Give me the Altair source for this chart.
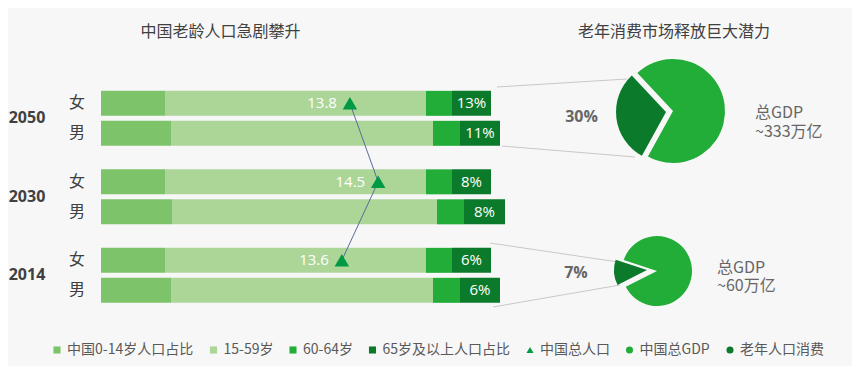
import math
import altair as alt
import pandas as pd

FONT = "Noto Sans CJK SC"
NUM_FONT = "Open Sans"
BG = "#f7f7f7"

# ---------------- data ----------------
years = ["2050", "2050", "2030", "2030", "2014", "2014"]
sexes = ["女", "男", "女", "男", "女", "男"]
# relative segment lengths as drawn
seg_0_14 = [64, 70, 64, 71, 64, 70]
seg_15_59 = [261, 262, 261, 265, 261, 262]
seg_60_64 = [26, 27, 26, 27, 26, 27]
seg_65_plus = [39, 40, 39, 41, 39, 40]
pct_65_labels = ["13%", "11%", "8%", "8%", "6%", "6%"]

pop_years = ["2050", "2030", "2014"]
pop_values = [13.8, 14.5, 13.6]  # 亿

group_names = ["中国0-14岁人口占比", "15-59岁", "60-64岁", "65岁及以上人口占比"]
legend_names = group_names + ["中国总人口", "中国总GDP", "老年人口消费"]
legend_colors = ["#7dc36a", "#acd598", "#22ac38", "#0b7b2b", "#009a44", "#22ac38", "#0b7b2b"]
legend_shapes = ["square", "square", "square", "square", "triangle-up", "circle", "circle"]

gdp_big_share = [30, 70]      # elderly consumption, rest (2050)
gdp_small_share = [12.5, 87.5]  # elderly consumption, rest (2014, as drawn)
pie_labels = ["30%", "7%"]
gdp_labels = ["总GDP\n~333万亿", "总GDP\n~60万亿"]
titles = ["中国老龄人口急剧攀升", "老年消费市场释放巨大潜力"]

# ---------------- tables ----------------
segs = [seg_0_14, seg_15_59, seg_60_64, seg_65_plus]
bar_rows = []
for i in range(len(years)):
    for j, g in enumerate(group_names):
        bar_rows.append({"year": years[i], "sex": sexes[i], "group": g,
                         "value": segs[j][i], "ord": j})
bars_df = pd.DataFrame(bar_rows)

rows_df = pd.DataFrame({
    "year": years, "sex": sexes, "pct": pct_65_labels,
    "lab_x": [a + b + c + d / 2 for a, b, c, d in zip(seg_0_14, seg_15_59, seg_60_64, seg_65_plus)],
})
year_df = pd.DataFrame({"year": pop_years})
pop_df = pd.DataFrame({"year": pop_years, "sex": ["女"] * 3, "pop": pop_values,
                       "series": ["中国总人口"] * 3, "ord": list(range(3))})
legend_df = pd.DataFrame({"name": legend_names})


def pie_df(share):
    names = ["老年人口消费", "中国总GDP"]
    start, rows = 0, []
    for n, v in zip(names, share):
        rows.append({"name": n, "start": start, "end": start + v})
        start += v
    return pd.DataFrame(rows)


big_pie = pie_df(gdp_big_share)
small_pie = pie_df(gdp_small_share)

# ---------------- scales ----------------
xscale = alt.Scale(domain=[0, 751], range=[93, 844])
yscale = alt.Scale(domain=["2050", "2030", "2014"], range=[71.08, 306.58],
                   paddingInner=0, paddingOuter=0)
yoff = alt.Scale(domain=["女", "男"], paddingInner=0.1667, paddingOuter=0.392)
popscale = alt.Scale(domain=[13, 15], range=[309.6, 390.4])
cscale = alt.Scale(domain=legend_names, range=legend_colors)
sscale = alt.Scale(domain=legend_names, range=legend_shapes)

lg = alt.Legend(orient="none", legendX=42, legendY=335, direction="horizontal", title=None,
                symbolSize=50, labelFont=FONT, labelFontSize=14, labelColor="#595959",
                labelOffset=3, columnPadding=12.5, symbolStrokeWidth=0, labelLimit=400)


def color_enc(field):
    return alt.Color(f"{field}:N", scale=cscale, legend=lg)


Y = alt.Y("year:N", scale=yscale, axis=None)
YO = alt.YOffset("sex:N", scale=yoff)

# ---------------- layers ----------------
dummy = pd.DataFrame({"a": [0]})


def rule(x1, y1, x2, y2):
    return alt.Chart(dummy).mark_rule(color="#c8c8c8", strokeWidth=1).encode(
        x=alt.value(x1), y=alt.value(y1), x2=alt.value(x2), y2=alt.value(y2))


connectors = [rule(489, 79, 619, 71), rule(494, 138, 627, 149),
              rule(482, 235, 610, 254), rule(485, 299, 612, 277)]

bars = alt.Chart(bars_df).mark_bar(strokeWidth=0).encode(
    x=alt.X("value:Q", stack="zero", scale=xscale, axis=None),
    y=Y, yOffset=YO, color=color_enc("group"), order=alt.Order("ord:Q"))

pct_text = alt.Chart(rows_df).mark_text(color="white", fontSize=15, font=NUM_FONT,
                                        baseline="middle").encode(
    x=alt.X("lab_x:Q", scale=xscale, axis=None), y=Y, yOffset=YO, text="pct:N")

sex_text = alt.Chart(rows_df).mark_text(color="#404040", fontSize=16, font=FONT,
                                        baseline="middle").encode(
    x=alt.value(69), y=Y, yOffset=YO, text="sex:N")

year_text = alt.Chart(year_df).mark_text(color="#404040", fontSize=16, font=NUM_FONT,
                                         fontWeight="bold", baseline="middle").encode(
    x=alt.value(19), y=Y, text="year:N")

pop_line = alt.Chart(pop_df).mark_line(color="#5b6b9b", strokeWidth=1).encode(
    x=alt.X("pop:Q", scale=popscale, axis=None), y=Y, yOffset=YO, order=alt.Order("ord:Q"))

pop_pts = alt.Chart(pop_df).mark_point(shape="triangle-up", filled=True, size=210,
                                       opacity=1).encode(
    x=alt.X("pop:Q", scale=popscale, axis=None), y=Y, yOffset=YO, color=color_enc("series"))

pop_text = alt.Chart(pop_df).mark_text(color="white", fontSize=15, font=NUM_FONT, align="right",
                                       dx=-13, baseline="middle").encode(
    x=alt.X("pop:Q", scale=popscale, axis=None), y=Y, yOffset=YO,
    text=alt.Text("pop:Q", format=".1f"))


def pie_layer(df, name, start_deg, radius, cx, cy):
    a = math.radians(start_deg)
    ts = alt.Scale(domain=[0, 100], range=[a, a + 2 * math.pi])
    return alt.Chart(df).transform_filter(alt.datum.name == name).mark_arc(
        radius=radius, strokeWidth=0).encode(
        theta=alt.Theta("start:Q", scale=ts, stack=None), theta2="end:Q",
        color=color_enc("name"), x=alt.value(cx), y=alt.value(cy))


pies = [
    pie_layer(big_pie, "中国总GDP", 208.8, 52, 665, 103),
    pie_layer(big_pie, "老年人口消费", 208.8, 50, 658, 104),
    pie_layer(small_pie, "中国总GDP", 243.2, 35, 649, 263),
    pie_layer(small_pie, "老年人口消费", 243.2, 33, 639, 262),
]


def label(text, x, y, **kw):
    return alt.Chart(pd.DataFrame({"t": [text]})).mark_text(baseline="middle", **kw).encode(
        x=alt.value(x), y=alt.value(y), text="t:N")


texts = [
    label(pie_labels[0], 573.5, 109, fontSize=16, fontWeight="bold", color="#666666", font=NUM_FONT),
    label(pie_labels[1], 568, 265, fontSize=16, fontWeight="bold", color="#666666", font=NUM_FONT),
    label(gdp_labels[0], 747, 104.5, align="left", lineBreak="\n", lineHeight=19,
          fontSize=16, color="#666666", font=FONT),
    label(gdp_labels[1], 709, 260, align="left", lineBreak="\n", lineHeight=18,
          fontSize=16, color="#666666", font=FONT),
    label(titles[0], 212.5, 24, fontSize=16, color="#404040", font=FONT),
    label(titles[1], 666, 24, fontSize=16, color="#404040", font=FONT),
]

legend_layer = alt.Chart(legend_df).mark_point(filled=True, opacity=1, size=50).encode(
    x=alt.value(-300), y=alt.value(-300), color=color_enc("name"),
    shape=alt.Shape("name:N", scale=sscale, legend=lg))

chart = alt.layer(
    *connectors, bars, pct_text, sex_text, year_text, pop_line, pop_pts, pop_text,
    *pies, *texts, legend_layer,
).resolve_scale(
    x="independent", theta="independent"
).properties(
    width=844, height=358, autosize=alt.AutoSizeParams(type="none"), padding=0,
    background=BG,
).configure_view(stroke=None)

chart.save("out.html", embed_options={"renderer": "svg", "actions": False})
